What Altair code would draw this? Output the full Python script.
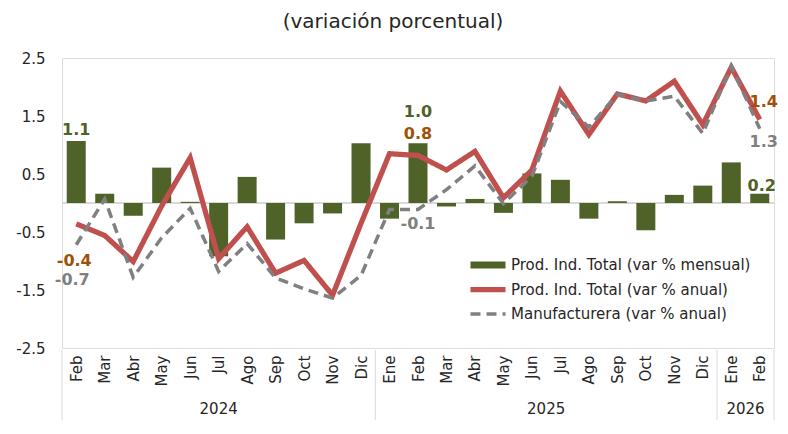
import json
import altair as alt
import pandas as pd

# ---------------- data ----------------
months = ["Feb", "Mar", "Abr", "May", "Jun", "Jul", "Ago", "Sep", "Oct", "Nov", "Dic",
          "Ene", "Feb", "Mar", "Abr", "May", "Jun", "Jul", "Ago", "Sep", "Oct", "Nov", "Dic",
          "Ene", "Feb"]
years = ["2024", "2025", "2026"]
months_per_year = [11, 12, 2]

mensual = [1.07, 0.16, -0.22, 0.61, 0.02, -0.92, 0.45, -0.63, -0.35, -0.18, 1.03,
           -0.27, 1.03, -0.06, 0.07, -0.17, 0.51, 0.40, -0.27, 0.03, -0.47, 0.14, 0.30,
           0.70, 0.16]
anual = [-0.36, -0.56, -1.01, -0.05, 0.78, -0.96, -0.41, -1.21, -0.99, -1.59, -0.35,
         0.85, 0.82, 0.57, 0.89, 0.09, 0.57, 1.93, 1.18, 1.88, 1.76, 2.10, 1.35,
         2.34, 1.44]
manuf = [-0.72, 0.07, -1.28, -0.60, -0.09, -1.18, -0.70, -1.29, -1.48, -1.64, -1.25,
         -0.11, -0.11, 0.23, 0.64, -0.01, 0.46, 1.75, 1.31, 1.87, 1.76, 1.84, 1.20,
         2.36, 1.28]

S1 = "Prod. Ind. Total (var % mensual)"
S2 = "Prod. Ind. Total (var % anual)"
S3 = "Manufacturera (var % anual)"
y_ticks = [-2.5, -1.5, -0.5, 0.5, 1.5, 2.5]

# ---------------- styles ----------------
FONT = "DejaVu Sans"
GREEN = "#4F6228"
RED = "#C0504D"
GREY = "#808080"
ORANGE = "#9C5209"
TXT = "#262626"
W, H = 712, 290

idx = list(range(len(months)))
df = pd.DataFrame({"idx": idx, "mes": months, "mensual": mensual, "anual": anual, "manuf": manuf})
df_long = pd.concat([
    pd.DataFrame({"idx": idx, "valor": anual, "serie": S2}),
    pd.DataFrame({"idx": idx, "valor": manuf, "serie": S3}),
])

# year group boundaries / centres derived from month counts
bounds = [-0.5]
centres = []
for n in months_per_year:
    start = bounds[-1]
    bounds.append(start + n)
    centres.append(start + n / 2)
df_sep = pd.DataFrame({"s": bounds})
df_year = pd.DataFrame({"c": centres, "year": years})

x_scale = alt.Scale(domain=[-0.5, len(months) - 0.5], nice=False, zero=False, padding=0)
y_scale = alt.Scale(domain=[-2.5, 2.5], nice=False, zero=False, padding=0)

x_axis = alt.Axis(values=idx, labelExpr=f"{json.dumps(months)}[datum.value]", labelAngle=270,
                  labelOverlap=False, labelFlush=False, domain=False, ticks=False, grid=False,
                  labelPadding=7, labelFontSize=15, labelFont=FONT, labelColor=TXT, title=None)
y_axis = alt.Axis(values=y_ticks, labelExpr="replace(format(datum.value, '.1f'), '\u2212', '-')",
                  domain=False, ticks=False, grid=False, labelPadding=17, labelFontSize=15,
                  labelFont=FONT, labelColor=TXT, title=None)

X = alt.X("idx:Q", scale=x_scale, axis=x_axis)

zero = alt.Chart(pd.DataFrame({"z": [0]})).mark_rule(color="#D9D9D9", strokeWidth=2).encode(
    y=alt.Y("z:Q", scale=y_scale, axis=y_axis), x=alt.value(0), x2=alt.value(W))

bars = alt.Chart(df).mark_bar(size=19, color=GREEN).encode(
    x=X, y=alt.Y("mensual:Q", scale=y_scale, axis=y_axis))

dom = [S1, S2, S3]
color = alt.Color("serie:N", scale=alt.Scale(domain=dom, range=[GREEN, RED, GREY]),
                  legend=alt.Legend(title=None, orient="none", legendX=405, legendY=197,
                                    symbolType="stroke", symbolSize=1225, labelFont=FONT,
                                    labelFontSize=15, labelColor=TXT, labelOffset=2,
                                    clipHeight=20, rowPadding=4.5, padding=0, labelLimit=400))
dash = alt.StrokeDash("serie:N", scale=alt.Scale(domain=dom, range=[[1, 0], [1, 0], [10, 6]]),
                      legend=alt.Legend(title=None))
swidth = alt.StrokeWidth("serie:N", scale=alt.Scale(domain=dom, range=[7, 3.5, 4]),
                         legend=alt.Legend(title=None))

line_red = alt.Chart(df_long).transform_filter(f"datum.serie == '{S2}'").mark_line().encode(
    x=X, y=alt.Y("valor:Q", scale=y_scale), color=color, strokeDash=dash, strokeWidth=swidth)
line_grey = alt.Chart(df_long).transform_filter(f"datum.serie == '{S3}'").mark_line().encode(
    x=X, y=alt.Y("valor:Q", scale=y_scale), color=color, strokeDash=dash, strokeWidth=swidth)


def lab(field, k, col, dy, dx=0):
    return alt.Chart(df).transform_filter(f"datum.idx == {k}").transform_calculate(
        t=f"replace(format(datum.{field}, '.1f'), '\u2212', '-')"
    ).mark_text(font=FONT, fontSize=16, fontWeight="bold", color=col, dy=dy, dx=dx,
                baseline="middle").encode(x=X, y=alt.Y(f"{field}:Q", scale=y_scale), text="t:N")


labels = [
    lab("mensual", 0, GREEN, -11),
    lab("anual", 0, ORANGE, 37, -2),
    lab("manuf", 0, GREY, 35, -4),
    lab("mensual", 12, GREEN, -31),
    lab("anual", 12, ORANGE, -21),
    lab("manuf", 12, GREY, 15),
    lab("anual", 24, ORANGE, -17, 4),
    lab("manuf", 24, GREY, 13, 4),
    lab("mensual", 24, GREEN, -8, 2),
]

seps = alt.Chart(df_sep).mark_rule(color="#D9D9D9", strokeWidth=1).encode(
    x=alt.X("s:Q", scale=x_scale, axis=x_axis), y=alt.value(292), y2=alt.value(362))

year_txt = alt.Chart(df_year).mark_text(font=FONT, fontSize=15, color=TXT, baseline="alphabetic").encode(
    x=alt.X("c:Q", scale=x_scale, axis=x_axis), y=alt.value(356), text="year:N")

chart = alt.layer(zero, bars, line_red, line_grey, *labels, seps, year_txt).properties(
    width=W, height=H,
    autosize=alt.AutoSizeParams(type="none"),
    padding={"left": 54, "top": 50, "right": 6, "bottom": 72},
    title=alt.TitleParams("(variación porcentual)", font=FONT, fontSize=20, fontWeight="normal",
                          color=TXT, anchor="middle", frame="group", offset=19, dx=-25),
).configure_view(stroke=None).configure(background="white")

chart.save("out.html", embed_options={"renderer": "svg", "actions": False})
